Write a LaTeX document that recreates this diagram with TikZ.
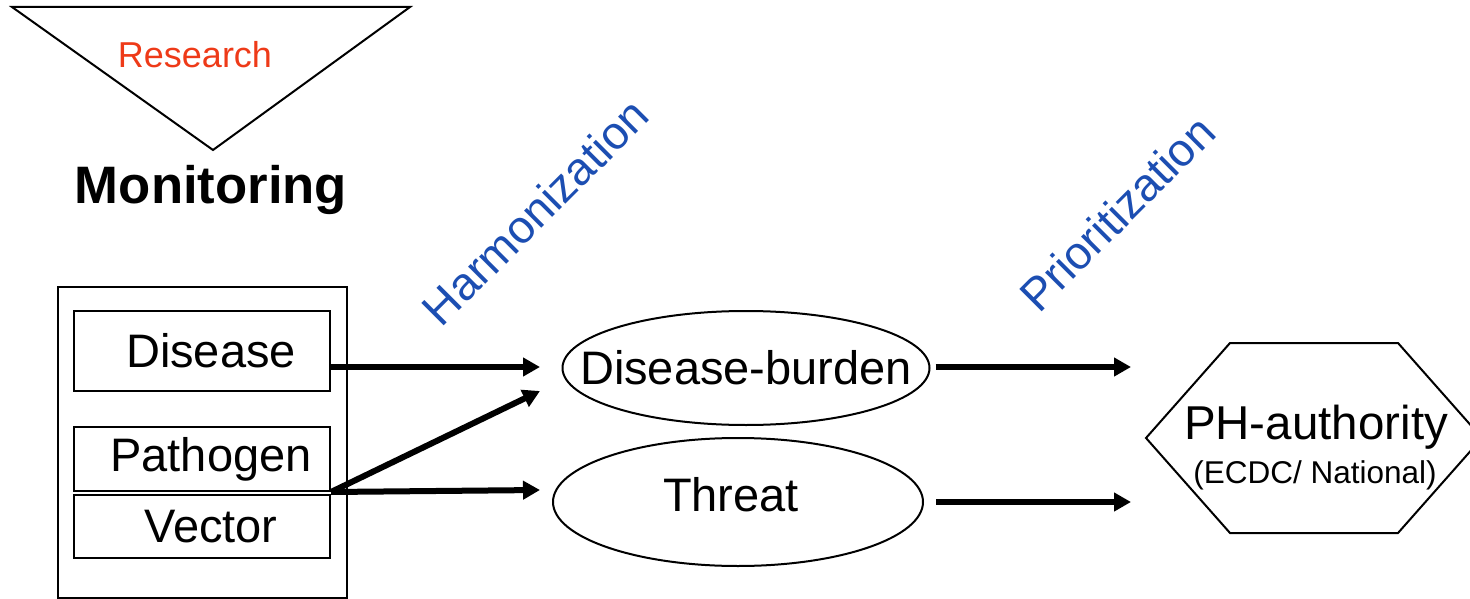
\documentclass[tikz,border=0pt]{standalone}
\usepackage{fontspec}
\setmainfont{Liberation Sans}
\usetikzlibrary{arrows.meta,shapes.geometric}
\definecolor{resred}{RGB}{238,58,24}
\definecolor{procblue}{RGB}{28,78,178}
\tikzset{
  px/.style={x=1pt, y=-1pt},
  thinline/.style={black, line width=2pt},
  cell/.style={thinline, draw, rectangle, inner sep=0pt, minimum width=256pt,
    font=\fontsize{47}{56}\selectfont, execute at begin node={\hspace*{18pt}}},
  blob/.style={thinline, draw, ellipse, inner sep=0pt},
  blobtext/.style={font=\fontsize{47}{56}\selectfont},
  flow/.style={black, line width=6pt, -{Triangle[length=17pt, width=18pt]}},
  proc/.style={procblue, font=\fontsize{46}{55}\selectfont, rotate=45},
}

\begin{document}
\begin{tikzpicture}[px]
  \clip (0,0) rectangle (1470,599);

  % --- research funnel and title ---
  \draw[thinline] (12,7) -- (410,7) -- (213,150) -- cycle;
  \node[resred, font=\fontsize{36}{43}\selectfont, anchor=base] (research) at (195,68) {Research};
  \node[font=\fontsize{52.7}{63}\selectfont\bfseries, anchor=base] (monitoring) at (211,204) {Monitoring};

  % --- monitoring box with its three sources ---
  \node[thinline, draw, rectangle, minimum width=289pt, minimum height=311pt] (monbox) at (202,442.5) {};
  \node[cell, minimum height=80pt] (disease) at (202,351) {Disease};
  \node[cell, minimum height=64pt] (pathogen) at (202,459) {Pathogen};
  \node[cell, minimum height=63pt] (vector) at (202,526.5) {Vector};

  % --- outcomes ---
  \node[blob, minimum width=367pt, minimum height=114pt,
    label={[blobtext, name=burdentext]center:Disease-burden}] (burden) at (746,368) {};
  \node[blob, minimum width=370pt, minimum height=128pt,
    label={[blobtext, name=threattext, xshift=-7pt, yshift=7pt]center:Threat}] (threat) at (738,502) {};

  % --- public-health authority (right edge runs off the page) ---
  \draw[thinline] (1146,438) -- (1230,343) -- (1398,343) -- (1482,438) -- (1398,533) -- (1230,533) -- cycle;
  \node[font=\fontsize{47.5}{57}\selectfont, anchor=base] (authority) at (1316,439) {PH-authority};
  \node[font=\fontsize{31.5}{38}\selectfont, anchor=base] (ecdc) at (1315,483) {(ECDC/ National)};

  % --- process labels ---
  \node[proc] (harmonization) at (535,212) {Harmonization};
  \node[proc] (prioritization) at (1117,213) {Prioritization};

  % --- arrow tips ---
  \coordinate (tipburden) at (540,367);
  \coordinate (tipdiag) at (540,391);
  \coordinate (tipthreat) at (540,490);
  \coordinate (tipauthA) at (1131,367);
  \coordinate (tipauthB) at (1131,502);

  % --- flows ---
  \draw[flow] (disease.east |- tipburden) -- (tipburden);
  \draw[flow] (pathogen.south east) -- (tipdiag);
  \draw[flow] (pathogen.south east) -- (tipthreat);
  \draw[flow, shorten <=5pt] (burden.east |- tipauthA) -- (tipauthA);
  \draw[flow, shorten <=12pt] (threat.east) -- (tipauthB);
\end{tikzpicture}
\end{document}
